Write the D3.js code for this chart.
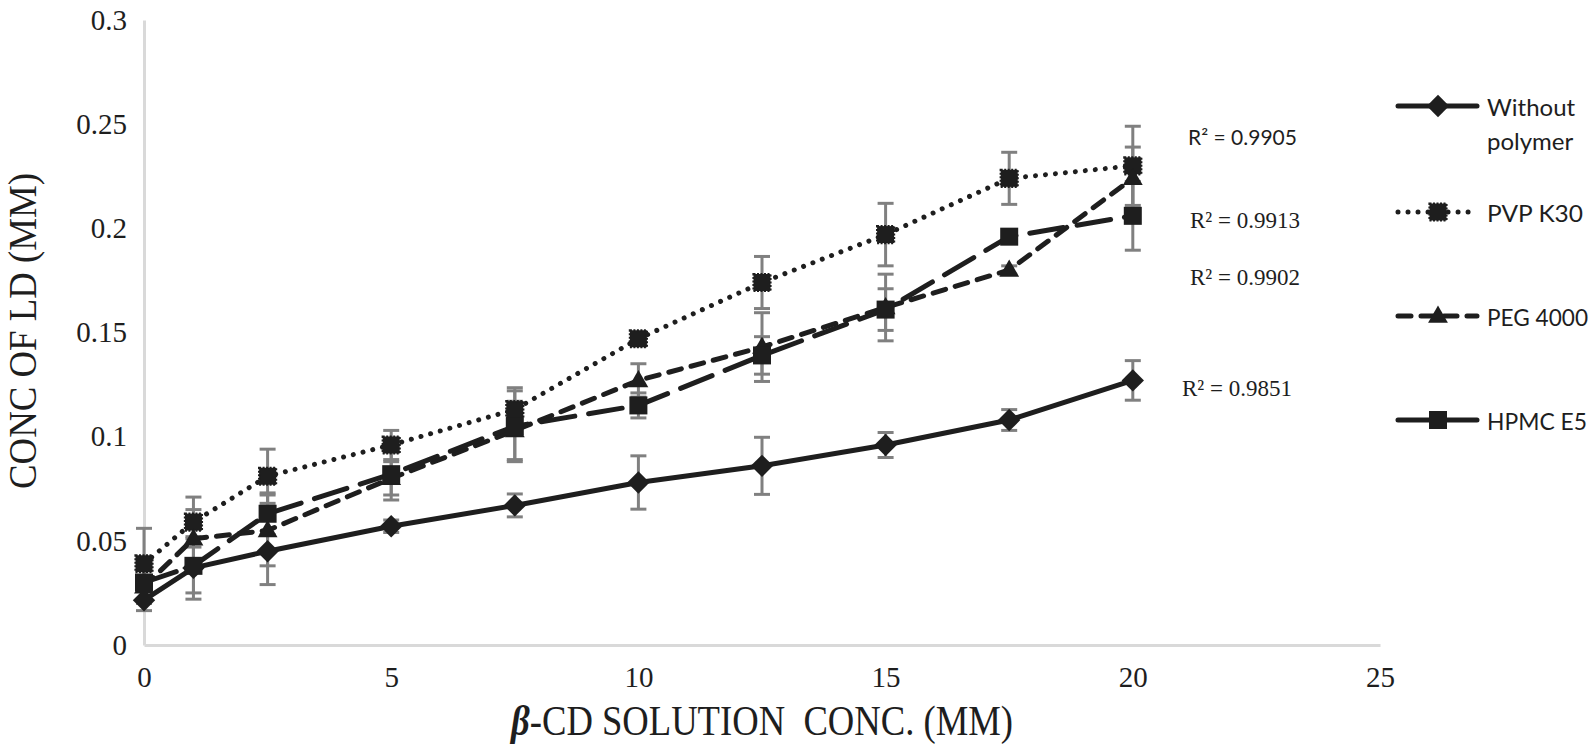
<!DOCTYPE html>
<html><head><meta charset="utf-8">
<script src="https://cdn.jsdelivr.net/npm/d3@7"></script>
<style>body{margin:0;background:#fff}svg{display:block}</style>
</head><body>
<svg id="c" width="1594" height="754"></svg>
<script>
const xValues = [0, 1, 2.5, 5, 7.5, 10, 12.5, 15, 17.5, 20];
const withoutPolymer = [0.0215, 0.037, 0.045, 0.057, 0.067, 0.078, 0.086, 0.096, 0.108, 0.127];
const withoutErr     = [0.005, 0.015, 0.016, 0.003, 0.0055, 0.0128, 0.0137, 0.006, 0.005, 0.0095];
const pvpK30   = [0.039, 0.059, 0.081, 0.096, 0.113, 0.147, 0.174, 0.197, 0.224, 0.230];
const pvpErr   = [0.017, 0.012, 0.013, 0.007, 0.0105, 0.002, 0.0125, 0.015, 0.0125, 0.019];
const peg4000  = [0.028, 0.051, 0.055, 0.080, 0.103, 0.127, 0.143, 0.162, 0.180, 0.224];
const pegErr   = [0.008, 0.014, 0.017, 0.008, 0.014, 0.008, 0.0165, 0.016, 0.002, 0.015];
const hpmcE5   = [0.030, 0.038, 0.063, 0.082, 0.105, 0.115, 0.139, 0.161, 0.196, 0.206];
const hpmcErr  = [0.010, 0.013, 0.010, 0.0124, 0.017, 0.006, 0.009, 0.010, 0.003, 0.0165];
const seriesNames = ["Without polymer", "PVP K30", "PEG 4000", "HPMC E5"];
const r2Labels = ["R² = 0.9905", "R² = 0.9913", "R² = 0.9902", "R² = 0.9851"];
const xTicks = [0, 5, 10, 15, 20, 25];
const yTicks = [0, 0.05, 0.1, 0.15, 0.2, 0.25, 0.3];
const yTickLabels = ["0", "0.05", "0.1", "0.15", "0.2", "0.25", "0.3"];

const svg = d3.select("#c");
const x = d3.scaleLinear().domain([0, 25]).range([144, 1380]);
const y = d3.scaleLinear().domain([0, 0.3]).range([645, 20]);
const INK = "#1e1e1e", ERR = "#808080", AX = "#d9d9d9";
const serif = "'Liberation Serif','Times New Roman',serif";
const sans = "Lato,'Open Sans',sans-serif";

// axes
const xAxis = svg.append("g").attr("transform", "translate(0,645)")
  .call(d3.axisBottom(x).tickValues(xTicks).tickSize(0).tickSizeOuter(0).tickPadding(21).tickFormat(d3.format("d")));
const yAxis = svg.append("g").attr("transform", "translate(144,0)")
  .call(d3.axisLeft(y).tickValues(yTicks).tickSize(0).tickSizeOuter(0).tickPadding(17).tickFormat((d, i) => yTickLabels[i]));
[xAxis, yAxis].forEach(g => {
  g.select(".domain").attr("stroke", AX).attr("stroke-width", 3);
  g.selectAll("text").attr("font-family", serif).attr("font-size", 29).attr("fill", INK);
});

// axis titles
svg.append("text").attr("x", 762).attr("y", 735).attr("text-anchor", "middle")
  .attr("font-family", serif).attr("font-size", 42).attr("fill", INK)
  .attr("textLength", 502).attr("lengthAdjust", "spacingAndGlyphs")
  .attr("xml:space", "preserve").style("white-space", "pre")
  .html('<tspan font-weight="bold" font-style="italic">β</tspan>-CD SOLUTION  CONC. (MM)');
svg.append("text").attr("transform", "translate(22,331) rotate(-90)").attr("text-anchor", "middle")
  .attr("dominant-baseline", "central")
  .attr("font-family", serif).attr("font-size", 40).attr("fill", INK)
  .attr("textLength", 316).attr("lengthAdjust", "spacingAndGlyphs")
  .text("CONC OF LD (MM)");

const styles = [
  { dash: null, cap: "round", marker: "diamond" },
  { dash: "0.01 10", cap: "round", marker: "pvp" },
  { dash: "13 10", cap: "round", marker: "triangle" },
  { dash: "34 14", cap: "round", marker: "square" }
];
const data = [withoutPolymer, pvpK30, peg4000, hpmcE5];
const errs = [withoutErr, pvpErr, pegErr, hpmcErr];

function drawMarker(g, type, cx, cy) {
  if (type === "diamond") {
    g.append("path").attr("d", d3.symbol(d3.symbolSquare, 250)())
      .attr("transform", `translate(${cx},${cy}) rotate(45)`).attr("fill", INK);
  } else if (type === "pvp") {
    g.append("rect").attr("x", cx - 8.5).attr("y", cy - 8.5).attr("width", 17).attr("height", 17)
      .attr("fill", INK).attr("stroke", INK).attr("stroke-width", 2.2).attr("stroke-dasharray", "2 1.5");
  } else if (type === "triangle") {
    g.append("path").attr("d", d3.symbol(d3.symbolTriangle, 170)())
      .attr("transform", `translate(${cx},${cy + 1})`).attr("fill", INK);
  } else {
    g.append("rect").attr("x", cx - 9).attr("y", cy - 9).attr("width", 18).attr("height", 18).attr("fill", INK);
  }
}

// error bars
data.forEach((vals, si) => {
  const g = svg.append("g");
  vals.forEach((v, i) => {
    const e = errs[si][i];
    const px = x(xValues[i]);
    g.append("line").attr("x1", px).attr("x2", px).attr("y1", y(v - e)).attr("y2", y(v + e))
      .attr("stroke", ERR).attr("stroke-width", 3);
    [v - e, v + e].forEach(t => g.append("line").attr("x1", px - 8).attr("x2", px + 8)
      .attr("y1", y(t)).attr("y2", y(t)).attr("stroke", ERR).attr("stroke-width", 3));
  });
});

// lines + markers
const line = d3.line().x((d, i) => x(xValues[i])).y(d => y(d));
data.forEach((vals, si) => {
  const s = styles[si];
  const g = svg.append("g");
  g.append("path").attr("d", line(vals)).attr("fill", "none").attr("stroke", INK)
    .attr("stroke-width", 5).attr("stroke-linecap", s.cap).attr("stroke-linejoin", "round")
    .attr("stroke-dasharray", s.dash);
  vals.forEach((v, i) => drawMarker(g, s.marker, x(xValues[i]), y(v)));
});

// R² labels
const r2Pos = [[1188, 136, sans, 21], [1190, 220, serif, 23], [1190, 277, serif, 23], [1182, 388, serif, 23]];
r2Labels.forEach((t, i) => {
  const p = r2Pos[i];
  svg.append("text").attr("x", p[0]).attr("y", p[1]).attr("dominant-baseline", "central")
    .attr("font-family", p[2]).attr("font-size", p[3]).attr("fill", INK).text(t);
});

// legend
const legY = [106, 212, 316, 420];
const legLen = [null, 96, 101, 100];
seriesNames.forEach((name, si) => {
  const s = styles[si];
  const g = svg.append("g");
  const ly = legY[si];
  g.append("line").attr("x1", 1398).attr("x2", 1477).attr("y1", ly).attr("y2", ly)
    .attr("stroke", INK).attr("stroke-width", 5).attr("stroke-linecap", s.cap).attr("stroke-dasharray", s.dash);
  drawMarker(g, s.marker, 1438, ly);
  const txt = g.append("text").attr("x", 1487).attr("y", ly).attr("dominant-baseline", "central")
    .attr("font-family", sans).attr("font-size", 24).attr("fill", INK);
  if (si === 0) {
    txt.append("tspan").attr("x", 1487).text("Without");
    txt.append("tspan").attr("x", 1487).attr("dy", 34).text("polymer");
  } else {
    txt.text(name).attr("textLength", legLen[si]).attr("lengthAdjust", "spacingAndGlyphs");
  }
});
</script>
</body></html>
